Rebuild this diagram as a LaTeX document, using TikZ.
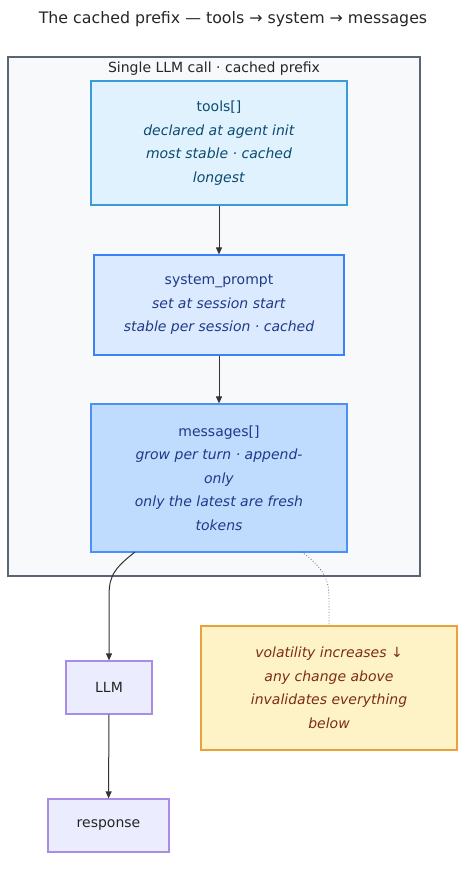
\documentclass[tikz,border=0pt]{standalone}
\usepackage{fontspec}
\setmainfont{DejaVu Sans}
\usetikzlibrary{arrows.meta}
\definecolor{clfill}{HTML}{F8F9FB}
\definecolor{cldraw}{HTML}{5B6474}
\definecolor{tfill}{HTML}{E0F2FE}
\definecolor{tdraw}{HTML}{3A9BD6}
\definecolor{ttext}{HTML}{0C4A6E}
\definecolor{sfill}{HTML}{DBEAFE}
\definecolor{sdraw}{HTML}{3B82F6}
\definecolor{stext}{HTML}{1E3A8A}
\definecolor{mfill}{HTML}{BFDBFE}
\definecolor{mdraw}{HTML}{4A90F5}
\definecolor{pfill}{HTML}{ECECFF}
\definecolor{pdraw}{HTML}{A98BE8}
\definecolor{nfill}{HTML}{FEF3C7}
\definecolor{ndraw}{HTML}{E9A23B}
\definecolor{ntext}{HTML}{7C2D12}
\definecolor{edge}{HTML}{333333}
\tikzset{
  x=1pt,y=-1pt,
  boxtxt/.style={font=\fontsize{14}{23.5}\selectfont, align=center, inner sep=0pt, line width=1.2pt},
  toolbox/.style={boxtxt, fill=tfill, draw=tdraw, text=ttext, minimum width=256pt, minimum height=124pt},
  sysbox/.style={boxtxt, fill=sfill, draw=sdraw, text=stext, minimum width=250pt, minimum height=100pt},
  msgbox/.style={boxtxt, fill=mfill, draw=mdraw, text=stext, minimum width=256pt, minimum height=148pt},
  plainbox/.style={boxtxt, fill=pfill, draw=pdraw, text=black!85},
  notebox/.style={boxtxt, fill=nfill, draw=ndraw, text=ntext, minimum width=256pt, minimum height=124pt},
  conn/.style={draw=edge, line width=1pt, -{Triangle[length=7pt,width=6pt]}},
  dotconn/.style={draw=edge!75, line width=0.8pt, dotted},
}
\begin{document}
\begin{tikzpicture}
\useasboundingbox (0,0) rectangle (473,874);
\node[font=\fontsize{15.8}{18}\selectfont, text=black!85] (title) at (233,19) {The cached prefix — tools → system → messages};
\node[draw=cldraw, fill=clfill, line width=1.2pt, minimum width=412pt, minimum height=519pt, inner sep=0pt] (cluster) at (214,316.5) {};
\node[font=\fontsize{14}{16}\selectfont, text=black!85] (cllabel) at (214,69) {Single LLM call · cached prefix};
\node[toolbox] (tools) at (219,143) {tools[]\\\textit{declared at agent init}\\\textit{most stable · cached}\\\textit{longest}};
\node[sysbox] (sys) at (219,305) {system\_prompt\\\textit{set at session start}\\\textit{stable per session · cached}};
\node[msgbox] (msg) at (219,478) {messages[]\\\textit{grow per turn · append-}\\\textit{only}\\\textit{only the latest are fresh}\\\textit{tokens}};
\node[plainbox, minimum width=86pt, minimum height=53pt] (llm) at (109,687.5) {LLM};
\node[plainbox, minimum width=121pt, minimum height=53pt] (resp) at (108.5,825.5) {response};
\node[notebox] (note) at (329,688) {\textit{volatility increases ↓}\\\textit{any change above}\\\textit{invalidates everything}\\\textit{below}};
\coordinate (mA) at (135,552);
\coordinate (mB) at (302,552);
\draw[conn] (tools) -- (sys);
\draw[conn] (sys) -- (msg);
\draw[conn] (mA) .. controls (109,572) and (109,580) .. (109,602) -- (llm.north);
\draw[conn] (llm) -- (resp);
\draw[dotconn] (mB) .. controls (329,572) and (329,585) .. (329,602) -- (note.north);
\end{tikzpicture}
\end{document}
